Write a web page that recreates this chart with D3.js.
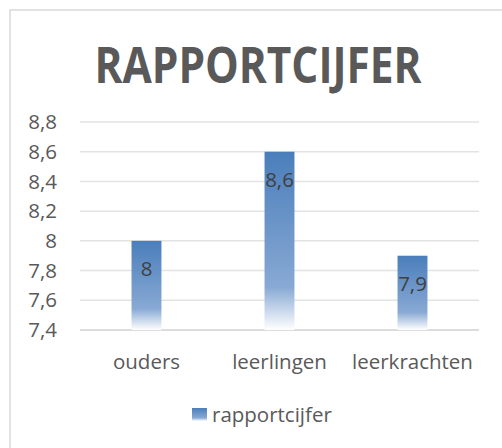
<!DOCTYPE html>
<html>
<head>
<meta charset="utf-8">
<script src="https://cdn.jsdelivr.net/npm/d3@7"></script>
<style>
  body { margin: 0; background: #fff; }
  text { font-family: 'Open Sans', sans-serif; }
</style>
</head>
<body>
<script>
const w = 502;
const h = 448;

const categories = ['ouders', 'leerlingen', 'leerkrachten'];
const values = [8, 8.6, 7.9];
const ticks = [7.4, 7.6, 7.8, 8, 8.2, 8.4, 8.6, 8.8];
const seriesName = 'rapportcijfer';
const title = 'RAPPORTCIJFER';

const fmt = d => String(d).replace('.', ',');

const svg = d3.select('body')
  .append('svg')
  .attr('width', w)
  .attr('height', h);

const defs = svg.append('defs');
const grad = defs.append('linearGradient')
  .attr('id', 'barGrad')
  .attr('x1', 0).attr('y1', 0).attr('x2', 0).attr('y2', 1);
grad.append('stop').attr('offset', '0%').attr('stop-color', '#4a7ebb');
grad.append('stop').attr('offset', '76%').attr('stop-color', '#88a9d4');
grad.append('stop').attr('offset', '100%').attr('stop-color', '#ffffff');

// chart border
svg.append('rect')
  .attr('x', 10).attr('y', 10)
  .attr('width', w).attr('height', h)
  .attr('fill', 'none')
  .attr('stroke', '#d9d9d9')
  .attr('stroke-width', 1.5);

svg.append('text')
  .attr('x', 258).attr('y', 83)
  .attr('text-anchor', 'middle')
  .attr('font-family', 'Lato, sans-serif')
  .attr('font-size', 50)
  .attr('font-weight', 'bold')
  .attr('fill', '#595959')
  .attr('textLength', 327)
  .attr('lengthAdjust', 'spacingAndGlyphs')
  .text(title);

const x = d3.scaleBand()
  .domain(categories)
  .range([80, 479])
  .paddingInner(0.775)
  .paddingOuter(0.3875);

const y = d3.scaleLinear()
  .domain([7.4, 8.8])
  .range([330, 122]);

svg.append('g')
  .selectAll('line')
  .data(ticks)
  .enter()
  .append('line')
  .attr('x1', 80).attr('x2', 479)
  .attr('y1', d => y(d)).attr('y2', d => y(d))
  .attr('stroke', (d, i) => i === 0 ? '#d0d0d0' : '#e3e3e3')
  .attr('stroke-width', 1.5);

svg.append('g')
  .selectAll('text')
  .data(ticks)
  .enter()
  .append('text')
  .attr('x', 57)
  .attr('y', d => y(d))
  .attr('dy', '0.35em')
  .attr('text-anchor', 'end')
  .attr('font-size', 20.5)
  .attr('fill', '#595959')
  .text(fmt);

svg.append('g')
  .selectAll('rect')
  .data(values)
  .enter()
  .append('rect')
  .attr('x', (d, i) => x(categories[i]))
  .attr('y', d => y(d))
  .attr('width', x.bandwidth())
  .attr('height', d => y(7.4) - y(d))
  .attr('fill', 'url(#barGrad)');

svg.append('g')
  .selectAll('text')
  .data(values)
  .enter()
  .append('text')
  .attr('x', (d, i) => x(categories[i]) + x.bandwidth() / 2)
  .attr('y', d => y(d) + 28)
  .attr('dy', '0.35em')
  .attr('text-anchor', 'middle')
  .attr('font-size', 20.5)
  .attr('fill', '#404040')
  .text(fmt);

svg.append('g')
  .selectAll('text')
  .data(categories)
  .enter()
  .append('text')
  .attr('x', d => x(d) + x.bandwidth() / 2)
  .attr('y', 362)
  .attr('dy', '0.35em')
  .attr('text-anchor', 'middle')
  .attr('font-size', 20.5)
  .attr('fill', '#595959')
  .text(d => d);

// legend
svg.append('rect')
  .attr('x', 192).attr('y', 408)
  .attr('width', 15).attr('height', 13)
  .attr('fill', 'url(#barGrad)');

svg.append('text')
  .attr('x', 212).attr('y', 415)
  .attr('dy', '0.35em')
  .attr('font-size', 20.5)
  .attr('fill', '#595959')
  .text(seriesName);
</script>
</body>
</html>
